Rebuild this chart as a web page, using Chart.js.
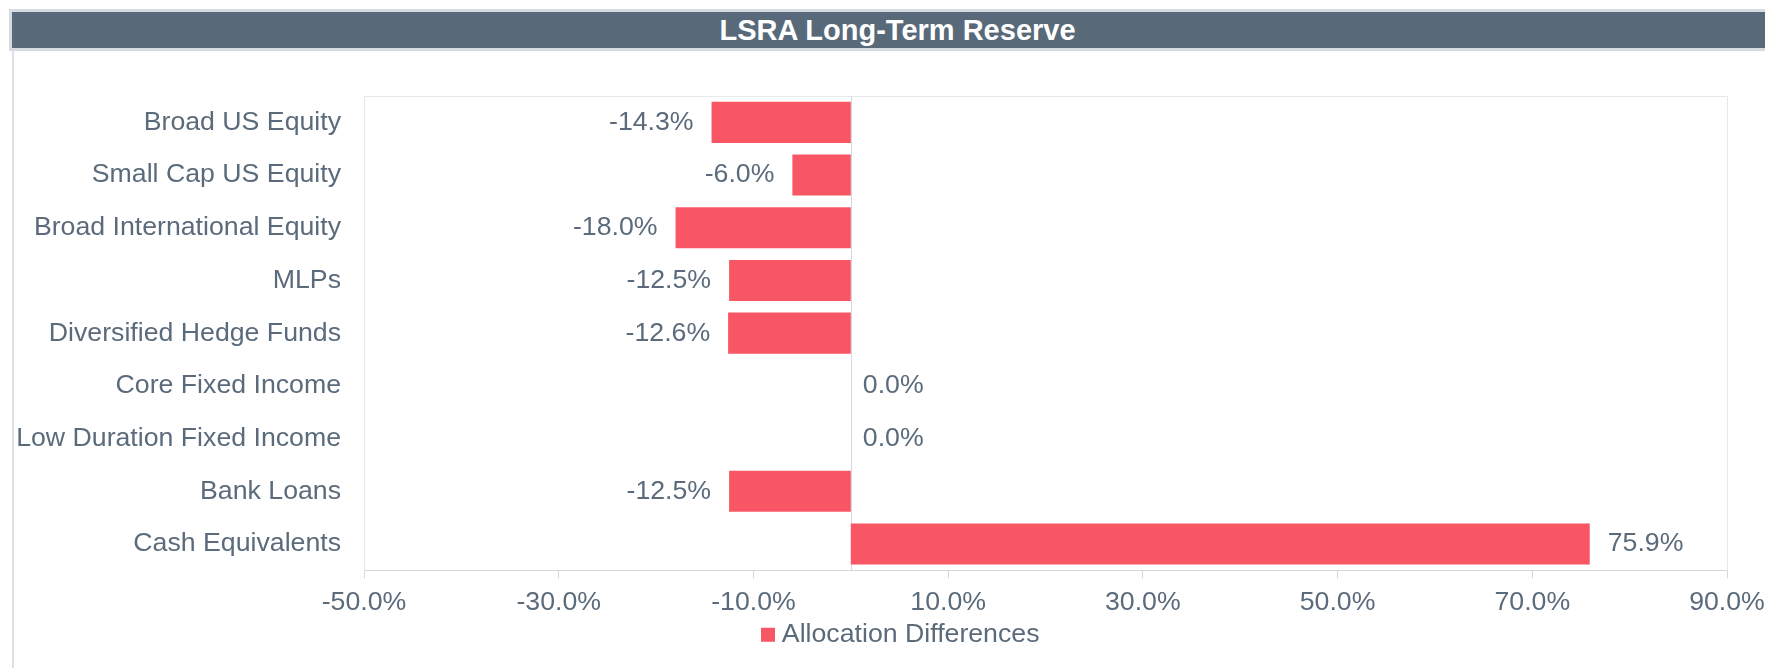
<!DOCTYPE html>
<html>
<head>
<meta charset="utf-8">
<script src="https://cdn.jsdelivr.net/npm/chart.js@4.4.1/dist/chart.umd.min.js"></script>
<style>
  html, body { margin: 0; padding: 0; background: #ffffff; }
  body { width: 1765px; height: 668px; position: relative; overflow: hidden; }
  #hdr {
    position: absolute; left: 9px; top: 9px; right: 0; height: 36px;
    background: #586a7a; border: 3px solid #d5dbe0; border-right: none;
    color: #ffffff; font: bold 29px 'Liberation Sans', Arial, sans-serif;
    text-align: center; line-height: 36px; padding-left: 18px; z-index: 2;
  }
  #edge { position: absolute; left: 12px; top: 51px; width: 2px; height: 617px; background: #dde1e5; z-index: 2; }
  #wrap { position: absolute; left: 0; top: 0; width: 1765px; height: 668px; }
</style>
</head>
<body>
<div id="hdr">LSRA Long-Term Reserve</div>
<div id="edge"></div>
<div id="wrap"><canvas id="allocChart"></canvas></div>
<script>
// --- data ---
const categories = ['Broad US Equity', 'Small Cap US Equity', 'Broad International Equity', 'MLPs',
    'Diversified Hedge Funds', 'Core Fixed Income', 'Low Duration Fixed Income', 'Bank Loans', 'Cash Equivalents'];
const diffs = [-14.3, -6.0, -18.0, -12.5, -12.6, 0.0, 0.0, -12.5, 75.9];
const tickValues = [-50, -30, -10, 10, 30, 50, 70, 90];
const seriesName = 'Allocation Differences';

const barColor = '#f85664';
const textColor = '#5b6b7b';
const lineColor = '#e6e9ec';
const axisColor = '#d3d8dd';
const fontFamily = "'Liberation Sans', Arial, sans-serif";
const fontSize = 26.7;

Chart.defaults.font.family = fontFamily;
Chart.defaults.font.size = fontSize;
Chart.defaults.color = textColor;

// plot frame + zero line
const framePlugin = {
    id: 'frame',
    beforeDraw(chart) {
        // legend sits a little right of the canvas centre, like the original
        if (chart.legend) chart.legend.left = 80;
    },
    beforeDatasetsDraw(chart) {
        const { ctx, chartArea: a, scales } = chart;
        const x0 = Math.round(scales.x.getPixelForValue(0)) + 0.5;
        ctx.save();
        ctx.lineWidth = 1;
        ctx.strokeStyle = lineColor;
        ctx.beginPath();
        ctx.moveTo(a.left, a.top + 0.5);
        ctx.lineTo(a.right + 0.5, a.top + 0.5);
        ctx.lineTo(a.right + 0.5, a.bottom);
        ctx.stroke();
        ctx.strokeStyle = axisColor;
        ctx.beginPath();
        ctx.moveTo(x0, a.top);
        ctx.lineTo(x0, a.bottom);
        ctx.stroke();
        ctx.restore();
    }
};

// value labels at bar ends
const valueLabels = {
    id: 'valueLabels',
    afterDatasetsDraw(chart) {
        const { ctx } = chart;
        const meta = chart.getDatasetMeta(0);
        ctx.save();
        ctx.font = fontSize + 'px ' + fontFamily;
        ctx.fillStyle = textColor;
        ctx.textBaseline = 'middle';
        meta.data.forEach((bar, i) => {
            const v = diffs[i];
            const label = v.toFixed(1) + '%';
            if (v < 0) {
                ctx.textAlign = 'right';
                ctx.fillText(label, bar.x - 18, bar.y);
            } else {
                ctx.textAlign = 'left';
                ctx.fillText(label, bar.x + (v > 0 ? 18 : 12), bar.y);
            }
        });
        ctx.restore();
    }
};

new Chart(document.getElementById('allocChart'), {
    type: 'bar',
    data: {
        labels: categories,
        datasets: [{
            label: seriesName,
            data: diffs,
            backgroundColor: barColor,
            borderWidth: 0,
            categoryPercentage: 1,
            barPercentage: 0.78
        }]
    },
    options: {
        indexAxis: 'y',
        responsive: true,
        maintainAspectRatio: false,
        animation: false,
        layout: { padding: { top: 96, right: 38, bottom: 10, left: 0 } },
        plugins: {
            legend: {
                position: 'bottom',
                labels: {
                    usePointStyle: true, pointStyle: 'rect', boxWidth: 1, boxHeight: 14,
                    padding: 6, color: textColor, font: { size: fontSize }
                }
            },
            tooltip: { enabled: false }
        },
        scales: {
            x: {
                min: -50,
                max: 90,
                afterBuildTicks: scale => { scale.ticks = tickValues.map(v => ({ value: v })); },
                afterFit: scale => { scale.height = 45; scale.paddingRight = 30; },
                grid: { display: true, drawOnChartArea: false, drawTicks: true, tickLength: 8, color: axisColor },
                border: { display: true, color: axisColor },
                ticks: { padding: 8, color: textColor, callback: v => v.toFixed(1) + '%', maxRotation: 0, autoSkip: false }
            },
            y: {
                afterFit: scale => { scale.width = 364; },
                grid: { display: false },
                border: { display: true, color: lineColor },
                ticks: { padding: 15, color: textColor, autoSkip: false }
            }
        }
    },
    plugins: [framePlugin, valueLabels]
});
</script>
</body>
</html>
